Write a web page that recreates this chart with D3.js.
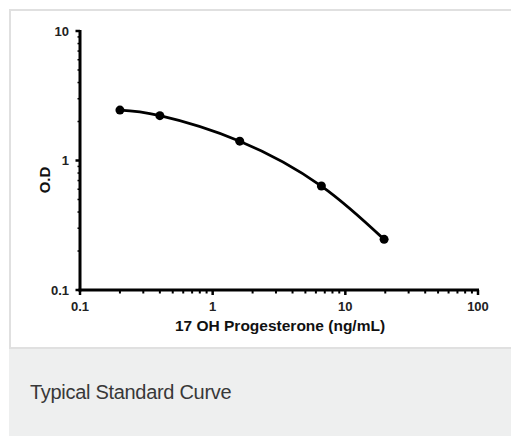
<!DOCTYPE html>
<html><head><meta charset="utf-8">
<script src="https://cdn.jsdelivr.net/npm/d3@7"></script>
<style>
html,body{margin:0;padding:0;background:#fff;}
svg{display:block;}
</style></head>
<body>
<svg id="c" width="511" height="436"></svg>
<script>
const concentrations = [0.2, 0.4, 1.6, 6.6, 19.6];
const odValues = [2.45, 2.22, 1.41, 0.635, 0.246];
const xTickLabels = ["0.1", "1", "10", "100"];
const yTickLabels = ["0.1", "1", "10"];
const xTitle = "17 OH Progesterone (ng/mL)";
const yTitle = "O.D";
const caption = "Typical Standard Curve";

const svg = d3.select("#c");
// card frame
svg.append("rect").attr("x",10).attr("y",10).attr("width",520).attr("height",338)
  .attr("fill","#fff").attr("stroke","#e0e0e0").attr("stroke-width",2);
svg.append("rect").attr("x",9).attr("y",349).attr("width",510).attr("height",100)
  .attr("fill","#eeefef");
svg.append("text").attr("x",30).attr("y",399).text(caption)
  .attr("font-family","Liberation Sans, Arial, sans-serif").attr("font-size",20)
  .attr("letter-spacing","-0.3").attr("fill","#383838");

const x = d3.scaleLog().domain([0.1,100]).range([80,478]);
const y = d3.scaleLog().domain([0.1,10]).range([290,31]);
const font = "Liberation Sans, Arial, sans-serif";

// minor ticks
const xMinor = [];
const yMinor = [];
for (let d=0.1; d<100; d*=10) for (let k=2;k<=9;k++) xMinor.push(+(d*k).toPrecision(3));
for (let d=0.1; d<10; d*=10) for (let k=2;k<=9;k++) yMinor.push(+(d*k).toPrecision(3));

const g = svg.append("g");
g.selectAll(".xm").data(xMinor).join("line")
  .attr("x1",d=>x(d)).attr("x2",d=>x(d)).attr("y1",290).attr("y2",293.5)
  .attr("stroke","#000").attr("stroke-width",2);
g.selectAll(".ym").data(yMinor).join("line")
  .attr("y1",d=>y(d)).attr("y2",d=>y(d)).attr("x1",80).attr("x2",77.5)
  .attr("stroke","#000").attr("stroke-width",1.5);
// major ticks
g.selectAll(".xM").data(xTickLabels).join("line")
  .attr("x1",d=>x(+d)).attr("x2",d=>x(+d)).attr("y1",290).attr("y2",295)
  .attr("stroke","#000").attr("stroke-width",2.5);
g.selectAll(".yM").data(yTickLabels).join("line")
  .attr("y1",d=>y(+d)).attr("y2",d=>y(+d)).attr("x1",80).attr("x2",75.5)
  .attr("stroke","#000").attr("stroke-width",2.5);
// axis lines
g.append("line").attr("x1",80).attr("x2",80).attr("y1",y(10)-1).attr("y2",291.5)
  .attr("stroke","#000").attr("stroke-width",3);
g.append("line").attr("x1",78.5).attr("x2",x(100)+1).attr("y1",290).attr("y2",290)
  .attr("stroke","#000").attr("stroke-width",3);

// tick labels
g.selectAll(".xl").data(xTickLabels).join("text")
  .attr("x",d=>x(+d)).attr("y",311).attr("text-anchor","middle")
  .attr("font-family",font).attr("font-weight","bold").attr("font-size",13).attr("fill","#222")
  .text(d=>d);
g.selectAll(".yl").data(yTickLabels).join("text")
  .attr("x",69).attr("y",d=>y(+d)+4.5).attr("text-anchor","end")
  .attr("font-family",font).attr("font-weight","bold").attr("font-size",13).attr("fill","#222")
  .text(d=>d);
// titles
g.append("text").attr("x",280).attr("y",331).attr("text-anchor","middle")
  .attr("font-family",font).attr("font-weight","bold").attr("font-size",15.5).attr("fill","#111")
  .text(xTitle);
g.append("text").attr("transform","translate(50,180) rotate(-90)").attr("text-anchor","middle")
  .attr("font-family",font).attr("font-weight","bold").attr("font-size",15).attr("fill","#111")
  .text(yTitle);

// curve
const pts = concentrations.map((c,i)=>[c,odValues[i]]);
const line = d3.line().x(d=>x(d[0])).y(d=>y(d[1])).curve(d3.curveNatural);
g.append("path").attr("d",line(pts)).attr("fill","none").attr("stroke","#000").attr("stroke-width",2.8);
g.selectAll(".pt").data(pts).join("circle")
  .attr("cx",d=>x(d[0])).attr("cy",d=>y(d[1])).attr("r",4.5).attr("fill","#000");
</script>
</body></html>
